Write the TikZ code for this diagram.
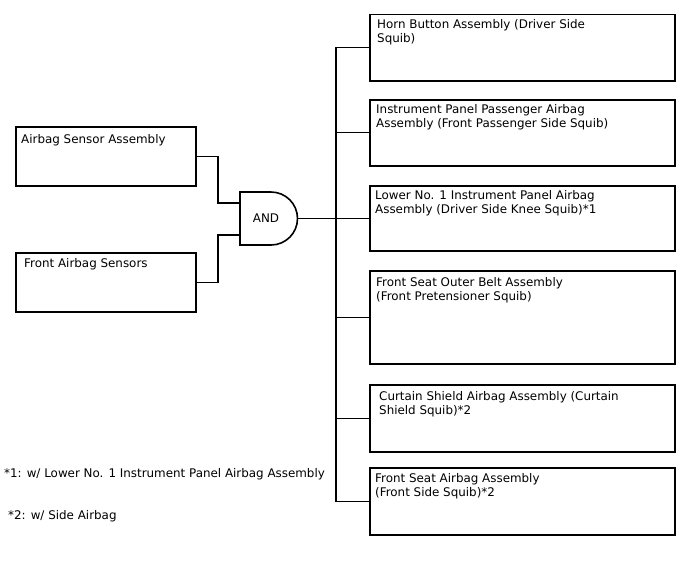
\documentclass[tikz,border=0pt]{standalone}
\usepackage{fontspec}
\setmainfont{DejaVu Sans}
\usetikzlibrary{positioning}
\tikzset{
  box/.style={draw=black,line width=1.6pt,inner sep=0pt,anchor=north west,minimum width=305pt},
  sbox/.style={box,minimum width=180pt,minimum height=59pt},
  txt/.style={anchor=north west,inner sep=0pt,align=left,font=\fontsize{11.9}{14}\selectfont},
  wire/.style={draw=black,line width=1.1pt},
  gate/.style={draw=black,line width=1.6pt,fill=white},
}

\begin{document}
\begin{tikzpicture}[x=1pt,y=-1pt]
\useasboundingbox[fill=white] (0,0) rectangle (688,560);
% input boxes
\node[sbox] (sensor) at (15,126) {};
\node[sbox] (front) at (15,252) {};
\node[txt] (sensor-t) at ([xshift=6pt,yshift=-8.5pt]sensor.north west) {Airbag Sensor Assembly};
\node[txt] (front-t) at ([xshift=9pt,yshift=-6.5pt]front.north west) {Front Airbag Sensors};
% and gate
\coordinate (in1) at (240,203);
\coordinate (in2) at (240,235);
\coordinate (out) at (297.5,218.5);
\coordinate (jl) at (218,0);
\coordinate (trunk) at (336,0);
\draw[gate] (240,192) -- (271,192) arc[start angle=-90,end angle=90,radius=26.5] -- (240,245) -- cycle;
\node[txt,anchor=center] (and) at (266,218.5) {AND};
\draw[wire] (sensor.east) -- (sensor.east -| jl) |- (in1);
\draw[wire] (front.east) -- (front.east -| jl) |- (in2);
% squib boxes
\node[box,minimum height=66.5pt] (horn) at (369,13.5) {};
\node[box,minimum height=66pt] (pass) at (369,99) {};
\node[box,minimum height=65pt] (knee) at (369,185) {};
\node[box,minimum height=93pt] (belt) at (369,270) {};
\node[box,minimum height=67pt] (curtain) at (369,384) {};
\node[box,minimum height=67pt] (side) at (369,467) {};
\node[txt] (horn-t) at ([xshift=8pt,yshift=-6pt]horn.north west) {Horn Button Assembly (Driver Side\\Squib)};
\node[txt] (pass-t) at ([xshift=7pt,yshift=-5.5pt]pass.north west) {Instrument Panel Passenger Airbag\\Assembly (Front Passenger Side Squib)};
\node[txt] (knee-t) at ([xshift=6pt,yshift=-5.5pt]knee.north west) {Lower No. 1 Instrument Panel Airbag\\Assembly (Driver Side Knee Squib)*1};
\node[txt] (belt-t) at ([xshift=7pt,yshift=-7.5pt]belt.north west) {Front Seat Outer Belt Assembly\\(Front Pretensioner Squib)};
\node[txt] (curtain-t) at ([xshift=10pt,yshift=-7.5pt]curtain.north west) {Curtain Shield Airbag Assembly (Curtain\\Shield Squib)*2};
\node[txt] (side-t) at ([xshift=6pt,yshift=-6.5pt]side.north west) {Front Seat Airbag Assembly\\(Front Side Squib)*2};
% output bus
\draw[wire] (out) -- (out -| trunk);
\draw[wire] (horn.west) -- (horn.west -| trunk) -- (side.west -| trunk) -- (side.west);
\draw[wire] (pass.west) -- (pass.west -| trunk);
\draw[wire] (knee.west) -- (knee.west -| trunk);
\draw[wire] (belt.west) -- (belt.west -| trunk);
\draw[wire] (curtain.west) -- (curtain.west -| trunk);
% notes
\node[txt] (note1) at (4,468.5) {*1: w/ Lower No. 1 Instrument Panel Airbag Assembly};
\node[txt] (note2) at (8,510.5) {*2: w/ Side Airbag};
\end{tikzpicture}
\end{document}
